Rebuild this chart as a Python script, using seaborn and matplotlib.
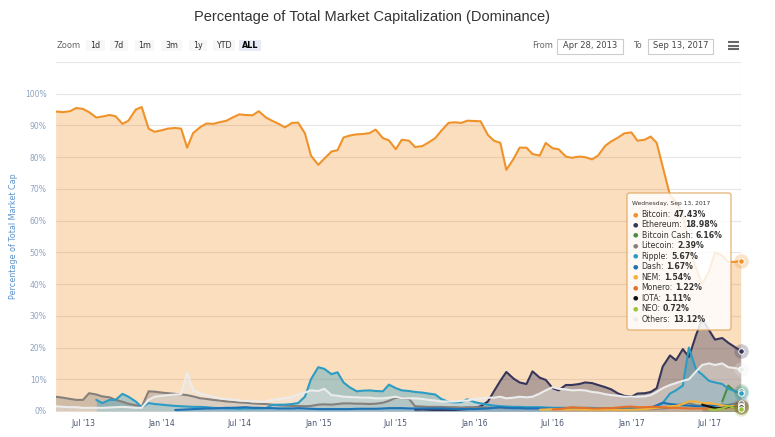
import pandas as pd
import matplotlib.pyplot as plt
import matplotlib.dates as mdates
import seaborn as sns
from matplotlib.patches import Rectangle, FancyBboxPatch

# sample dates: Apr 28 2013, then 1st / 15th of every month, then Sep 13 2017
month_starts = pd.date_range("2013-06-01", "2017-09-01", freq="MS")
mid_months = month_starts[:-1] + pd.Timedelta(days=14)
dates = pd.DatetimeIndex([pd.Timestamp("2013-04-28"), pd.Timestamp("2013-05-15")]
                         + sorted(list(month_starts) + list(mid_months))
                         + [pd.Timestamp("2017-09-13")])

# dominance in %, every list ends on Sep 13 2017 (shorter lists start later)
bitcoin = [94.4, 94.2, 94.5, 95.5, 95.2, 94.2, 92.5, 92.8, 93.3, 92.9, 90.5, 91.5, 95.0, 95.8, 89.0, 88.0,
           88.5, 89.0, 89.2, 89.0, 83.0, 87.6, 89.5, 90.6, 90.5, 91.0, 91.5, 92.5,
           93.5, 93.3, 93.2, 94.5, 92.5, 91.5, 90.5, 89.4, 90.8, 90.9, 87.5, 80.5,
           77.6, 79.5, 81.8, 82.2, 86.2, 86.8, 87.2, 87.3, 87.6, 88.7, 86.0, 85.3,
           82.5, 85.5, 85.2, 83.2, 83.5, 84.6, 86.0, 88.3, 90.8, 91.0, 90.8, 91.5,
           91.4, 91.3, 87.0, 85.2, 84.5, 76.0, 79.5, 83.0, 83.0, 81.0, 80.5, 84.5,
           82.8, 82.5, 80.2, 79.8, 80.2, 80.0, 79.3, 80.5, 83.6, 85.0, 86.2, 87.5,
           87.8, 85.2, 85.5, 86.5, 84.5, 77.0, 68.0, 66.0, 62.0, 52.0, 45.0, 40.0,
           44.0, 50.0, 49.0, 47.0, 47.0, 47.43]
ethereum = [0.4, 0.5, 0.4, 0.3, 0.3, 0.3, 0.3, 0.5, 0.6,
            1.0, 1.5, 3.0, 6.2, 9.5, 12.3, 10.2, 9.0, 8.5, 12.5, 10.5, 9.8,
            7.2, 6.5, 8.2, 8.2, 8.5, 9.0, 8.8, 8.2, 7.5, 6.8, 5.5, 4.8,
            4.5, 5.5, 5.6, 6.0, 7.2, 14.0, 17.5, 16.0, 19.5, 17.0, 24.0, 29.0,
            25.5, 22.5, 23.0, 21.5, 20.0, 18.98]
bitcoin_cash = [3.0, 8.0, 6.0, 6.16]
litecoin = [4.5, 4.2, 3.8, 3.5, 3.5, 5.6, 5.2, 4.6, 4.3, 3.5, 2.9, 2.3, 1.8, 1.3, 6.2, 6.1,
            5.8, 5.6, 5.4, 5.2, 5.0, 4.6, 4.0, 3.8, 3.5, 3.3, 3.0, 2.9,
            2.7, 2.6, 2.4, 2.3, 2.2, 2.0, 1.8, 1.7, 1.6, 1.6, 1.5, 1.6,
            2.0, 2.1, 2.0, 2.2, 2.4, 2.4, 2.3, 2.3, 2.2, 2.3, 2.6, 3.2,
            4.2, 4.0, 3.8, 1.5, 1.4, 1.3, 1.3, 1.3, 1.2, 1.2, 1.1, 1.2,
            1.2, 1.2, 1.1, 1.0, 1.0, 0.9, 0.9, 0.9, 0.9, 0.9, 0.9, 0.9,
            0.8, 0.8, 0.8, 0.7, 0.7, 0.6, 0.6, 0.6, 0.6, 0.6, 0.6, 0.6,
            0.6, 0.6, 0.6, 0.6, 0.7, 0.8, 1.0, 1.8, 2.2, 2.5, 1.8, 1.6,
            1.8, 1.8, 1.8, 1.9, 2.5, 2.39]
ripple = [3.5, 2.5, 3.5, 3.5, 5.4, 4.5, 3.0, 1.2, 2.5, 2.2,
          2.0, 1.8, 1.6, 1.5, 1.4, 1.3, 1.3, 1.2, 1.0, 0.9, 0.8, 0.8,
          0.7, 0.8, 0.8, 0.8, 0.9, 1.9, 2.0, 2.0, 2.2, 2.5, 4.5, 10.0,
          13.8, 13.3, 11.6, 12.2, 9.0, 7.5, 6.2, 6.4, 6.5, 6.3, 6.2, 8.3,
          7.2, 6.5, 6.3, 6.0, 5.8, 5.5, 5.2, 3.8, 2.9, 2.7, 2.8, 3.7,
          2.8, 2.4, 2.0, 1.7, 1.5, 1.4, 1.3, 1.3, 1.2, 1.2, 1.2, 1.1,
          1.0, 1.0, 1.0, 1.0, 1.0, 1.0, 1.0, 0.9, 0.9, 0.9, 0.9, 0.9,
          0.9, 0.9, 1.0, 1.1, 1.5, 2.5, 5.5, 6.5, 8.0, 20.0, 13.0, 11.5,
          9.5, 9.0, 8.5, 7.0, 6.2, 5.67]
dash = [0.3, 0.4, 0.5, 0.6, 0.7, 0.8, 0.8, 0.9, 1.0, 1.0,
        1.1, 1.2, 1.0, 1.0, 0.9, 0.9, 0.8, 0.8, 0.8, 0.9, 0.8, 0.7,
        0.6, 0.6, 0.6, 0.6, 0.6, 0.6, 0.7, 0.7, 0.7, 0.7, 0.8, 0.9,
        0.9, 0.9, 0.8, 0.8, 0.8, 0.8, 0.8, 0.8, 0.7, 0.6, 0.6, 0.6,
        0.6, 0.7, 0.8, 1.0, 1.2, 1.0, 0.9, 0.9, 0.8, 0.8, 0.8, 0.8,
        0.7, 0.7, 0.7, 0.6, 0.6, 0.6, 0.6, 0.6, 0.6, 0.6, 0.6, 0.6,
        0.6, 0.7, 0.9, 1.0, 1.8, 2.6, 2.2, 2.0, 1.8, 1.7, 1.5, 1.5,
        1.5, 1.7, 2.0, 1.8, 1.7, 1.67]
nem = [0.4, 0.5, 0.6, 0.6, 0.5, 0.5, 0.5, 0.4, 0.4, 0.4, 0.4, 0.4, 0.4, 0.4,
       0.4, 0.5, 0.6, 0.8, 1.0, 1.2, 1.5, 1.6, 2.2, 3.0, 3.0, 2.5,
       2.5, 2.2, 1.8, 1.6, 1.6, 1.54]
monero = [0.5, 0.6, 0.9, 1.2, 1.0, 1.0, 0.8, 0.8, 0.9, 0.9, 1.1, 1.3,
          1.4, 1.2, 1.2, 1.3, 1.3, 1.2, 1.0, 1.0, 0.9, 0.8, 0.8, 0.8,
          0.8, 0.8, 1.0, 1.1, 1.2, 1.22]
iota = [2.0, 1.4, 0.9, 0.9, 1.3, 1.2, 1.11]
neo = [0.5, 0.4, 0.8, 1.5, 1.0, 0.72]
others = [1.5, 1.3, 1.2, 1.2, 1.0, 1.0, 1.0, 1.0, 1.1, 1.2, 1.3, 1.2, 1.0, 1.0, 3.5, 4.5,
          4.8, 5.0, 5.2, 5.3, 12.0, 6.5, 5.5, 5.0, 4.5, 4.0, 3.8, 3.5,
          3.3, 3.2, 3.0, 2.9, 3.0, 3.5, 3.8, 4.0, 4.5, 5.2, 5.8, 6.5,
          6.3, 7.0, 5.0, 4.8, 4.5, 4.4, 4.3, 4.2, 4.2, 4.0, 4.0, 4.2,
          4.5, 4.0, 4.0, 4.0, 3.8, 3.5, 3.3, 3.0, 3.0, 3.0, 3.2, 3.3,
          3.8, 4.0, 4.2, 4.2, 4.5, 4.0, 4.2, 4.5, 4.3, 4.5, 5.5, 6.5,
          7.5, 7.0, 6.8, 6.5, 6.6, 6.5, 6.0, 5.8, 5.3, 5.0, 4.8, 4.5,
          4.5, 4.5, 4.6, 5.0, 6.0, 7.2, 8.2, 8.8, 9.5, 10.0, 12.5, 14.5,
          15.0, 14.5, 15.0, 13.8, 13.5, 13.12]

coins = ["Bitcoin", "Ethereum", "Bitcoin Cash", "Litecoin", "Ripple", "Dash",
         "NEM", "Monero", "IOTA", "NEO", "Others"]
series = [bitcoin, ethereum, bitcoin_cash, litecoin, ripple, dash,
          nem, monero, iota, neo, others]
colors = ["#f0922a", "#36355a", "#4c8c44", "#86807c", "#2b9cc4", "#1c72b4",
          "#f2b23c", "#e3702d", "#111111", "#9dc33b", "#ececec"]
palette = dict(zip(coins, colors))

rows = []
for coin, vals in zip(coins, series):
    if len(vals) > len(dates):
        raise ValueError(f"too many values for {coin}: {len(vals)}")
    for d, v in zip(dates[-len(vals):], vals):
        rows.append((d, coin, v))
df = pd.DataFrame(rows, columns=["date", "coin", "share"])

sns.set_theme(style="white")
plt.rcParams["font.family"] = ["DejaVu Sans"]

fig = plt.figure(figsize=(7.75, 4.37), dpi=100)
ax = fig.add_axes([55.6 / 775, 1 - 411 / 437, (740.7 - 55.6) / 775, (411 - 62) / 437])

# area fills (each series filled down to zero, semi transparent)
for coin in coins:
    part = df[df["coin"] == coin]
    ax.fill_between(part["date"], 0, part["share"], color=palette[coin],
                    alpha=0.3 if coin == "Bitcoin" else 0.36, linewidth=0, zorder=1)

sns.lineplot(data=df, x="date", y="share", hue="coin", hue_order=coins,
             palette=palette, linewidth=1.5, legend=False, estimator=None,
             ax=ax, zorder=2)

# hover crosshair and markers on the last point
end = dates[-1]
ax.axvline(end, color="#cccccc", linewidth=0.8, zorder=1.5)
for coin, vals in zip(coins, series):
    ax.scatter([end], [vals[-1]], s=110, color=palette[coin], alpha=0.25,
               linewidths=0, zorder=3, clip_on=False)
    ax.scatter([end], [vals[-1]], s=16, color=palette[coin], edgecolors="white",
               linewidths=0.7, zorder=4, clip_on=False)

ax.set_xlim(pd.Timestamp("2013-04-28"), end)
ax.set_ylim(0, 110)
ax.set_yticks(range(0, 111, 10))
ax.set_yticklabels([f"{v}%" for v in range(0, 101, 10)] + [""])
xticks = pd.to_datetime(["2013-07-01", "2014-01-01", "2014-07-01", "2015-01-01",
                         "2015-07-01", "2016-01-01", "2016-07-01", "2017-01-01",
                         "2017-07-01"])
ax.set_xticks(xticks)
ax.xaxis.set_major_formatter(mdates.DateFormatter("%b '%y"))
ax.set_xlabel("")
ax.set_ylabel("")
ax.grid(axis="y", color="#e6e6e6", linewidth=0.8)
ax.set_axisbelow(True)
for side in ax.spines:
    ax.spines[side].set_visible(False)
ax.tick_params(axis="y", length=0, pad=6.5, labelsize=5.5, labelcolor="#8ea2c0")
ax.tick_params(axis="x", length=4, width=0.8, color="#ccd6eb", pad=2,
               labelsize=5.6, labelcolor="#4b5870")
ax.patch.set_alpha(0)

fig.text(372.5 / 775, 1 - 17 / 437, "Percentage of Total Market Capitalization (Dominance)",
         ha="center", va="center", fontsize=10.5, color="#333333",
         family=["Liberation Sans", "DejaVu Sans"])
fig.text(14 / 775, 1 - 236 / 437, "Percentage of Total Market Cap", rotation=90,
         ha="center", va="center", fontsize=5.8, color="#5b93cc")

# overlay in pixel coordinates for range selector and tooltip
ov = fig.add_axes([0, 0, 1, 1], zorder=10)
ov.set_xlim(0, 775)
ov.set_ylim(437, 0)
ov.axis("off")
ov.patch.set_alpha(0)

ov.text(57, 45.5, "Zoom", fontsize=6, color="#666666", va="center")
buttons = [("1d", 86, 105), ("7d", 110, 128), ("1m", 135, 154), ("3m", 161, 182),
           ("1y", 189, 207), ("YTD", 213, 235), ("ALL", 239, 261)]
for label, x0, x1 in buttons:
    active = label == "ALL"
    ov.add_patch(Rectangle((x0, 39.5), x1 - x0, 11.5, facecolor="#e6ebf5" if active else "#f7f7f7",
                           edgecolor="none"))
    ov.text((x0 + x1) / 2, 45.5, label, fontsize=5.8, ha="center", va="center",
            color="#000000" if active else "#333333",
            fontweight="bold" if active else "normal")

ov.text(532, 45.5, "From", fontsize=6, color="#666666", va="center")
ov.add_patch(Rectangle((557, 38.5), 66, 15, facecolor="white", edgecolor="#cccccc", linewidth=0.8))
ov.text(590, 45.5, "Apr 28, 2013", fontsize=6, color="#444444", ha="center", va="center")
ov.text(633, 45.5, "To", fontsize=6, color="#666666", va="center")
ov.add_patch(Rectangle((648, 38.5), 65, 15, facecolor="white", edgecolor="#cccccc", linewidth=0.8))
ov.text(680.5, 45.5, "Sep 13, 2017", fontsize=6, color="#444444", ha="center", va="center")
for yy in (42, 45.5, 49):
    ov.plot([728, 739], [yy, yy], color="#666666", linewidth=1.5, solid_capstyle="butt")

# shared tooltip
ov.add_patch(FancyBboxPatch((627, 193), 104, 137, boxstyle="round,pad=0,rounding_size=2.5",
                            facecolor=(1, 1, 1, 0.85), edgecolor="#e2a862", linewidth=0.8))
ov.text(632, 204, "Wednesday, Sep 13, 2017", fontsize=4.3, color="#333333", va="center")
fig.canvas.draw()
renderer = fig.canvas.get_renderer()
for i, (coin, vals) in enumerate(zip(coins, series)):
    yy = 214.5 + i * 10.45
    ov.text(635, yy, "\u25cf", fontsize=4.5, color=palette[coin], ha="center", va="center")
    t = ov.text(641.5, yy, f"{coin}:", fontsize=5.6, color="#333333", va="center")
    bb = t.get_window_extent(renderer)
    ov.text(bb.x1 + 2.5, yy, f"{vals[-1]:.2f}%", fontsize=5.6, color="#333333",
            fontweight="bold", va="center")

fig.savefig("out.png", dpi=100)
